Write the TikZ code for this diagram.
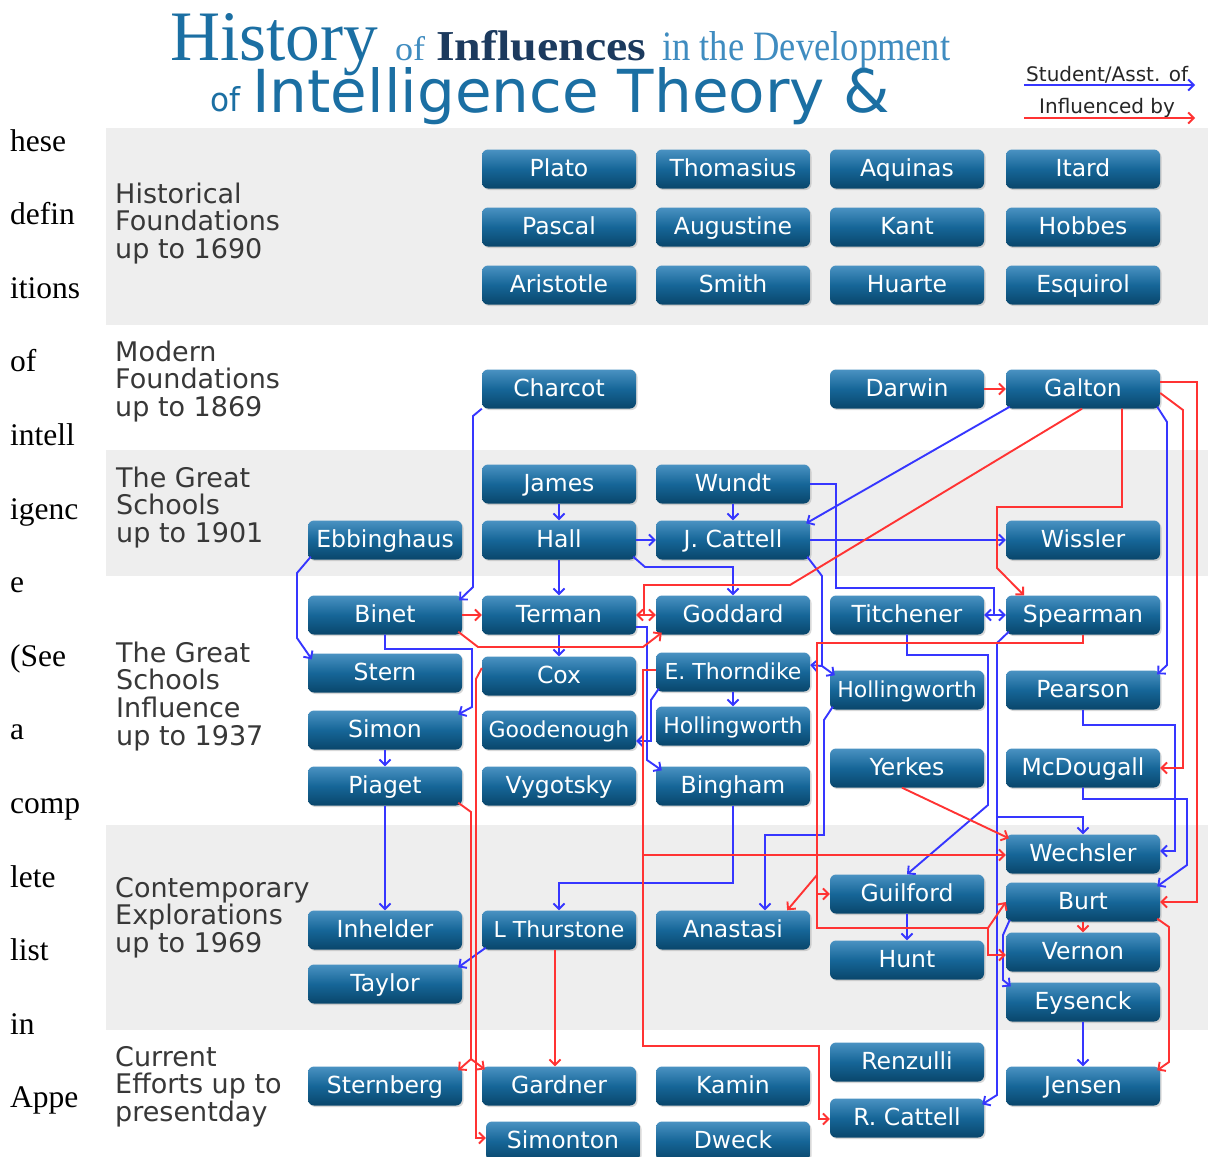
\documentclass[tikz,border=0pt]{standalone}
\usepackage{fontspec}
\newfontfamily\dejavu{DejaVu Sans}
\newfontfamily\tnr{Liberation Serif}
\usetikzlibrary{arrows.meta,shadows}
\definecolor{bandgray}{HTML}{EEEEEE}
\definecolor{boxtop}{HTML}{4A92C2}
\definecolor{boxmid}{HTML}{166698}
\definecolor{boxbot}{HTML}{09466B}
\definecolor{linkblue}{HTML}{3636FF}
\definecolor{linkred}{HTML}{FF3333}
\definecolor{titleblue}{HTML}{1B6FA3}
\definecolor{titlenavy}{HTML}{1C3A5E}
\definecolor{titlelight}{HTML}{3F8CC0}
\definecolor{labelgray}{HTML}{383838}
\tikzset{
  person/.style={rectangle, rounded corners=6pt, minimum width=154pt, minimum height=39pt,
    inner sep=0pt, text height=16pt, text depth=1pt, top color=boxtop, bottom color=boxbot, middle color=boxmid, text=white,
    font=\dejavu\fontsize{23.5}{25}\selectfont,
    drop shadow={shadow xshift=1.5pt, shadow yshift=-1.5pt, opacity=0.3}},
  longname/.style={font=\dejavu\fontsize{22}{24}\selectfont},
  catlabel/.style={anchor=base west, inner sep=0pt, text=labelgray, font=\dejavu\fontsize{27}{28}\selectfont},
  stray/.style={anchor=base west, inner sep=0pt, text=black, font=\tnr\fontsize{31.5}{32}\selectfont},
  legendtext/.style={anchor=base west, inner sep=0pt, text=black!85, font=\dejavu\fontsize{20}{21}\selectfont},
  titlepart/.style={anchor=base west, inner sep=0pt},
  stu/.style={draw=linkblue, line width=1.9pt, -{Straight Barb[length=5.5pt,width=11pt]}},
  inf/.style={draw=linkred, line width=1.9pt, -{Straight Barb[length=5.5pt,width=11pt]}},
}
\begin{document}
\begin{tikzpicture}[x=1pt,y=-1pt]
\clip (0,0) rectangle (1208,1157);
\fill[white] (0,0) rectangle (1208,1157);
% bands
\fill[bandgray] (106,128) rectangle (1208,325);
\fill[bandgray] (106,450) rectangle (1208,576);
\fill[bandgray] (106,825) rectangle (1208,1030);

% title
\node[titlepart, text=titleblue] (tHist) at (170,60) {\resizebox{208pt}{47pt}{\tnr History}};
\node[titlepart, text=titlelight] (tOf1) at (395,60) {\resizebox{30pt}{24pt}{\tnr of}};
\node[titlepart, text=titlenavy] (tInf) at (436,60) {\resizebox{210pt}{30pt}{\tnr\bfseries Influences}};
\node[titlepart, text=titlelight] (tDev) at (662,60) {\resizebox{288pt}{29pt}{\tnr in the Development}};
\node[titlepart, text=titleblue] (tOf2) at (210,111) {\resizebox{30pt}{25pt}{\dejavu of}};
\node[titlepart, text=titleblue] (tInt) at (252,112) {\resizebox{638pt}{45pt}{\dejavu Intelligence Theory \&}};

% legend
\node[legendtext] (legStu) at (1026,81) {Student/Asst. of};
\coordinate (lbA) at (1024,85); \coordinate (lbB) at (1195,85);
\draw[stu] (lbA) -- (lbB);
\node[legendtext] (legInf) at (1039,113) {Influenced by};
\coordinate (lrA) at (1024,118); \coordinate (lrB) at (1195,118);
\draw[inf] (lrA) -- (lrB);

% stray page text
\node[stray] (s1) at (10,151) {hese};
\node[stray] (s2) at (10,224.6) {defin};
\node[stray] (s3) at (10,298.2) {itions};
\node[stray] (s4) at (10,371.8) {of};
\node[stray] (s5) at (10,445.4) {intell};
\node[stray] (s6) at (10,519) {igenc};
\node[stray] (s7) at (10,592.6) {e};
\node[stray] (s8) at (10,666.2) {(See};
\node[stray] (s9) at (10,739.8) {a};
\node[stray] (s10) at (10,813.4) {comp};
\node[stray] (s11) at (10,887) {lete};
\node[stray] (s12) at (10,960.6) {list};
\node[stray] (s13) at (10,1034.2) {in};
\node[stray] (s14) at (10,1107.8) {Appe};

% category labels
\node[catlabel] (c1a) at (115,203) {Historical};
\node[catlabel] (c1b) at (115,230.5) {Foundations};
\node[catlabel] (c1c) at (115,258) {up to 1690};
\node[catlabel] (c2a) at (115,361) {Modern};
\node[catlabel] (c2b) at (115,388.5) {Foundations};
\node[catlabel] (c2c) at (115,416) {up to 1869};
\node[catlabel] (c3a) at (116,487) {The Great};
\node[catlabel] (c3b) at (116,514.5) {Schools};
\node[catlabel] (c3c) at (116,542) {up to 1901};
\node[catlabel] (c4a) at (116,662) {The Great};
\node[catlabel] (c4b) at (116,689.5) {Schools};
\node[catlabel] (c4c) at (116,717) {Influence};
\node[catlabel] (c4d) at (116,745) {up to 1937};
\node[catlabel] (c5a) at (115,897) {Contemporary};
\node[catlabel] (c5b) at (115,924.5) {Explorations};
\node[catlabel] (c5c) at (115,952) {up to 1969};
\node[catlabel] (c6a) at (115,1066) {Current};
\node[catlabel] (c6b) at (115,1093.5) {Efforts up to};
\node[catlabel] (c6c) at (115,1121) {presentday};

% people
\node[person] (plato) at (559,169) {Plato};
\node[person] (thomasius) at (733,169) {Thomasius};
\node[person] (aquinas) at (907,169) {Aquinas};
\node[person] (itard) at (1083,169) {Itard};
\node[person] (pascal) at (559,227) {Pascal};
\node[person] (augustine) at (733,227) {Augustine};
\node[person] (kant) at (907,227) {Kant};
\node[person] (hobbes) at (1083,227) {Hobbes};
\node[person] (aristotle) at (559,285) {Aristotle};
\node[person] (smith) at (733,285) {Smith};
\node[person] (huarte) at (907,285) {Huarte};
\node[person] (esquirol) at (1083,285) {Esquirol};
\node[person] (charcot) at (559,389) {Charcot};
\node[person] (darwin) at (907,389) {Darwin};
\node[person] (galton) at (1083,389) {Galton};
\node[person] (james) at (559,484) {James};
\node[person] (wundt) at (733,484) {Wundt};
\node[person] (ebbinghaus) at (385,540) {Ebbinghaus};
\node[person] (hall) at (559,540) {Hall};
\node[person] (jcattell) at (733,540) {J. Cattell};
\node[person] (wissler) at (1083,540) {Wissler};
\node[person] (binet) at (385,615) {Binet};
\node[person] (terman) at (559,615) {Terman};
\node[person] (goddard) at (733,615) {Goddard};
\node[person] (titchener) at (907,615) {Titchener};
\node[person] (spearman) at (1083,615) {Spearman};
\node[person] (stern) at (385,673) {Stern};
\node[person] (cox) at (559,676) {Cox};
\node[person, longname] (ethorndike) at (733,672) {E. Thorndike};
\node[person, longname] (hollD) at (907,690) {Hollingworth};
\node[person] (pearson) at (1083,690) {Pearson};
\node[person] (simon) at (385,730) {Simon};
\node[person, longname] (goodenough) at (559,730) {Goodenough};
\node[person, longname] (hollC) at (733,726) {Hollingworth};
\node[person] (piaget) at (385,786) {Piaget};
\node[person] (vygotsky) at (559,786) {Vygotsky};
\node[person] (bingham) at (733,786) {Bingham};
\node[person] (yerkes) at (907,768) {Yerkes};
\node[person] (mcdougall) at (1083,768) {McDougall};
\node[person] (wechsler) at (1083,854) {Wechsler};
\node[person] (guilford) at (907,894) {Guilford};
\node[person] (burt) at (1083,902) {Burt};
\node[person] (inhelder) at (385,930) {Inhelder};
\node[person, longname] (lthurstone) at (559,930) {L Thurstone};
\node[person] (anastasi) at (733,930) {Anastasi};
\node[person] (vernon) at (1083,952) {Vernon};
\node[person] (hunt) at (907,960) {Hunt};
\node[person] (taylor) at (385,984) {Taylor};
\node[person] (eysenck) at (1083,1002) {Eysenck};
\node[person] (renzulli) at (907,1062) {Renzulli};
\node[person] (sternberg) at (385,1086) {Sternberg};
\node[person] (gardner) at (559,1086) {Gardner};
\node[person] (kamin) at (733,1086) {Kamin};
\node[person] (jensen) at (1083,1086) {Jensen};
\node[person] (rcattell) at (907,1118) {R. Cattell};
\node[person] (simonton) at (563,1141) {Simonton};
\node[person] (dweck) at (733,1141) {Dweck};

% junctions
\coordinate (jTS) at (994,615);
\coordinate (jJC) at (822,666);
\coordinate (jSp) at (997,817);
\coordinate (jGT) at (644,615);
\coordinate (jPi) at (471,1059);
\coordinate (jEW) at (643,855);
\coordinate (jSA) at (817,875);
\coordinate (jSG) at (817,894);
\coordinate (jSB) at (988,928);

% blue: student / assistant of
\draw[stu] (charcot.south west) -- (473,416) -- (473,587) -- ([xshift=-3pt,yshift=-5pt]binet.north east);
\draw[stu] (james.south) -- (hall.north);
\draw[stu] (wundt.south) -- (jcattell.north);
\draw[stu] (hall.east) -- (jcattell.west);
\draw[stu] ([xshift=-3pt,yshift=3pt]hall.south east) -- (645,567) -- (733,567) -- (goddard.north);
\draw[stu] (hall.south) -- (terman.north);
\draw[stu] (terman.south) -- (cox.north);
\draw[stu] (wundt.east) -- (836,484) -- (836,588) -- (994,588) -- (jTS) -- (titchener.east);
\draw[stu] (jTS) -- (spearman.west);
\draw[stu] (jcattell.east) -- (wissler.west);
\draw[stu] ([xshift=4pt,yshift=2pt]galton.south west) -- ([xshift=-4pt,yshift=-3pt]jcattell.north east);
\draw[stu] ([xshift=3pt,yshift=3pt]ebbinghaus.south west) -- (297,573) -- (297,638) -- ([xshift=4pt,yshift=-6pt]stern.north west);
\draw[stu] (binet.south) -- (385,649) -- (472,649) -- (472,707) -- ([xshift=-4pt,yshift=-4pt]simon.north east);
\draw[stu] (simon.south) -- (piaget.north);
\draw[stu] (piaget.south) -- (inhelder.north);
\draw[stu] ([yshift=-12pt]terman.east) -- (647,627) -- (647,760) -- ([xshift=6pt,yshift=-4pt]bingham.north west);
\draw[stu] ([xshift=3pt,yshift=3pt]ethorndike.south west) -- (651,700) -- (651,741) -- ([yshift=-11pt]goodenough.east);
\draw[stu] (ethorndike.south) -- (hollC.north);
\draw[stu] ([xshift=-3pt,yshift=3pt]jcattell.south east) -- (822,576) -- (jJC) -- ([yshift=7pt]ethorndike.east);
\draw[stu] (jJC) -- ([xshift=5pt,yshift=-5pt]hollD.north west);
\draw[stu] ([xshift=3pt,yshift=3pt]hollD.south west) -- (824,720) -- (824,835) -- (765,835) -- ([xshift=32pt]anastasi.north);
\draw[stu] (bingham.south) -- (733,883) -| (lthurstone.north);
\draw[stu] ([xshift=4pt,yshift=2pt]lthurstone.south west) -- ([xshift=-4pt,yshift=-3pt]taylor.north east);
\draw[stu] (titchener.south) -- (907,655) -- (988,655) -- (988,805) -- (guilford.north);
\draw[stu] ([xshift=3pt,yshift=3pt]spearman.south west) -- (997,643) -- (jSp) -- (997,1095) -- ([xshift=-2pt,yshift=-6pt]rcattell.north east);
\draw[stu] (jSp) -| (wechsler.north);
\draw[stu] ([xshift=4pt,yshift=2pt]burt.south west) -- (1003,935) -- (1003,980) -- ([xshift=5pt,yshift=-4pt]eysenck.north west);
\draw[stu] (mcdougall.south) -- (1083,799) -- (1187,799) -- (1187,865) -- ([xshift=-3pt,yshift=-4pt]burt.north east);
\draw[stu] (pearson.south) -- (1083,725) -- (1175,725) -- (1175,851) -- ([yshift=3pt]wechsler.east);
\draw[stu] ([xshift=-3pt,yshift=2pt]galton.south east) -- (1167,422) -- (1167,665) -- ([xshift=-3pt,yshift=-4pt]pearson.north east);
\draw[stu] (eysenck.south) -- (jensen.north);
\draw[stu] (guilford.south) -- (hunt.north);

% red: influenced by
\draw[inf] (darwin.east) -- (galton.west);
\draw[inf] (binet.east) -- (terman.west);
\draw[inf] ([xshift=-4pt,yshift=3pt]binet.south east) -- (478,647) -- (643,647) -- ([xshift=6pt,yshift=2pt]goddard.south west);
\draw[inf] ([xshift=-1pt]galton.south) -- (790,585) -- (644,585) -- (jGT) -- (terman.east);
\draw[inf] (jGT) -- (goddard.west);
\draw[inf] ([xshift=39pt]galton.south) -- (1122,507) -- (997,507) -- (997,568) -- ([xshift=-59pt]spearman.north);
\draw[inf] ([yshift=-4pt]galton.east) -- (1183,410) -- (1183,768) -- (mcdougall.east);
\draw[inf] ([yshift=7pt]galton.east) -- (1197,382) -- (1197,902) -- (burt.east);
\draw[inf] ([xshift=-4pt,yshift=3pt]piaget.south east) -- (471,812) -- (jPi) -- ([xshift=-4pt,yshift=-4pt]sternberg.north east);
\draw[inf] (jPi) -- ([xshift=3pt,yshift=-3pt]gardner.north west);
\draw[inf] ([yshift=8pt]cox.west) -- (476,679) -- (476,1138) -- ([yshift=3pt]simonton.west);
\draw[inf] ([xshift=-4pt]lthurstone.south) -- ([xshift=-4pt]gardner.north);
\draw[inf] ([yshift=2pt]ethorndike.west) -- (643,670) -- (jEW) -- (643,1046) -- (819,1046) -- (819,1119) -- ([yshift=-1pt]rcattell.west);
\draw[inf] (jEW) -- ([yshift=-1pt]wechsler.west);
\draw[inf] (spearman.south) -- (1083,643) -- (817,643) -- (jSA) -- (jSG) -- (817,928) -- (jSB) -- (988,955) -- ([yshift=-3pt]vernon.west);
\draw[inf] (jSG) -- (guilford.west);
\draw[inf] (jSA) -- ([xshift=-23pt]anastasi.north east);
\draw[inf] (jSB) -- (burt.west);
\draw[inf] ([xshift=-5pt]yerkes.south) -- ([xshift=3pt,yshift=-4pt]wechsler.north west);
\draw[inf] (burt.south) -- (vernon.north);
\draw[inf] ([xshift=-3pt,yshift=3pt]burt.south east) -- (1169,927) -- (1169,1062) -- ([xshift=-3pt,yshift=-4pt]jensen.north east);
\end{tikzpicture}
\end{document}
